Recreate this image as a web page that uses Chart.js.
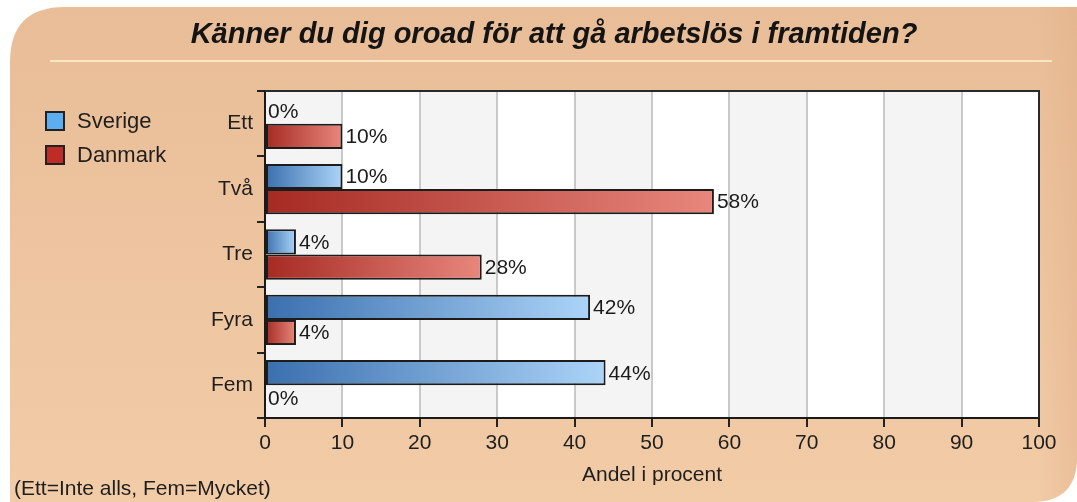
<!DOCTYPE html>
<html>
<head>
<meta charset="utf-8">
<script src="https://cdn.jsdelivr.net/npm/chart.js@4/dist/chart.umd.min.js"></script>
<style>
  html, body { margin: 0; padding: 0; background: #fff; }
  #wrap { width: 1077px; height: 502px; }
</style>
</head>
<body>
<div id="wrap"><canvas id="chart" width="1077" height="502"></canvas></div>
<script>
'use strict';

var categories = ['Ett', 'Två', 'Tre', 'Fyra', 'Fem'];
var sverige = [0, 10, 4, 42, 44];
var danmark = [10, 58, 28, 4, 0];
var xTicks = [0, 10, 20, 30, 40, 50, 60, 70, 80, 90, 100];
var chartTitle = 'Känner du dig oroad för att gå arbetslös i framtiden?';
var axisTitle = 'Andel i procent';
var footnote = '(Ett=Inte alls, Fem=Mycket)';

var FONT = "'Liberation Sans', Arial, sans-serif";

function barFill(dark, light) {
  return function(c) {
    var chart = c.chart;
    var x = chart.scales && chart.scales.x;
    if (c.type !== 'data' || !x || !chart.chartArea) return dark;
    var x0 = x.getPixelForValue(0);
    var x1 = x.getPixelForValue(c.raw);
    if (x1 - x0 < 1) return dark;
    var g = chart.ctx.createLinearGradient(x0, 0, x1, 0);
    g.addColorStop(0, dark);
    g.addColorStop(1, light);
    return g;
  };
}

function roundedPanel(ctx, l, t, r, b, rTL, rBR) {
  ctx.beginPath();
  ctx.moveTo(l + rTL, t);
  ctx.lineTo(r, t);
  ctx.lineTo(r, b - rBR);
  ctx.quadraticCurveTo(r, b, r - rBR, b);
  ctx.lineTo(l, b);
  ctx.lineTo(l, t + rTL);
  ctx.quadraticCurveTo(l, t, l + rTL, t);
  ctx.closePath();
}

var decor = {
  id: 'decor',
  beforeDraw: function(chart) {
    var ctx = chart.ctx;
    var a = chart.chartArea;
    var x = chart.scales.x;
    ctx.save();
    ctx.fillStyle = '#ffffff';
    ctx.fillRect(0, 0, chart.width, chart.height);

    // peach panel
    var g = ctx.createLinearGradient(0, 7, 0, chart.height);
    g.addColorStop(0, '#e8bd97');
    g.addColorStop(1, '#f2cca7');
    roundedPanel(ctx, 10, 7, chart.width, chart.height, 55, 45);
    ctx.fillStyle = g;
    ctx.fill();
    var g2 = ctx.createLinearGradient(chart.width - 40, 0, chart.width, 0);
    g2.addColorStop(0, 'rgba(225,175,135,0)');
    g2.addColorStop(1, 'rgba(225,175,135,0.45)');
    ctx.fillStyle = g2;
    ctx.fill();

    // title line
    ctx.strokeStyle = '#f8e6c6';
    ctx.lineWidth = 2;
    ctx.beginPath();
    ctx.moveTo(50, 61);
    ctx.lineTo(1052, 61);
    ctx.stroke();

    // title
    ctx.fillStyle = '#141414';
    ctx.font = 'italic bold 29px ' + FONT;
    ctx.textAlign = 'center';
    ctx.textBaseline = 'middle';
    ctx.fillText(chartTitle, 554, 35);

    // plot background stripes
    for (var i = 0; i < xTicks.length - 1; i++) {
      var p0 = x.getPixelForValue(xTicks[i]);
      var p1 = x.getPixelForValue(xTicks[i + 1]);
      ctx.fillStyle = i % 2 === 0 ? '#f4f4f5' : '#ffffff';
      ctx.fillRect(p0, a.top, p1 - p0, a.bottom - a.top);
    }

    // legend
    ctx.font = '22px ' + FONT;
    ctx.textAlign = 'left';
    ctx.textBaseline = 'middle';
    chart.data.datasets.forEach(function(ds, k) {
      var cy = 121 + k * 34;
      ctx.fillStyle = ds.legendColor;
      ctx.fillRect(46, cy - 9, 18, 18);
      ctx.strokeStyle = '#222';
      ctx.lineWidth = 2;
      ctx.strokeRect(46, cy - 9, 18, 18);
      ctx.fillStyle = '#1e1e1e';
      ctx.fillText(ds.label, 77, cy + 1);
    });

    // footnote
    ctx.font = '21px ' + FONT;
    ctx.fillStyle = '#1e1e1e';
    ctx.textBaseline = 'middle';
    ctx.fillText(footnote, 14, 489);
    ctx.restore();
  },
  afterDatasetsDraw: function(chart) {
    var ctx = chart.ctx;
    var a = chart.chartArea;
    ctx.save();
    // top and right frame
    ctx.strokeStyle = '#2a2a2a';
    ctx.lineWidth = 2;
    ctx.beginPath();
    ctx.moveTo(a.left, a.top);
    ctx.lineTo(a.right, a.top);
    ctx.lineTo(a.right, a.bottom);
    ctx.stroke();

    // value labels
    ctx.font = '21px ' + FONT;
    ctx.fillStyle = '#1a1a1a';
    ctx.textAlign = 'left';
    ctx.textBaseline = 'middle';
    chart.data.datasets.forEach(function(ds, k) {
      var meta = chart.getDatasetMeta(k);
      meta.data.forEach(function(bar, j) {
        ctx.fillText(ds.data[j] + '%', bar.x + 3, bar.y + 1);
      });
    });
    ctx.restore();
  }
};

var canvas = document.getElementById('chart');
var chart = new Chart(canvas.getContext('2d'), {
  type: 'bar',
  data: {
    labels: categories,
    datasets: [
      {
        label: 'Sverige',
        data: sverige,
        legendColor: '#5caef0',
        backgroundColor: barFill('#3a6fae', '#acd4f8'),
        borderColor: '#1c1c1c',
        borderWidth: 2,
        borderSkipped: false
      },
      {
        label: 'Danmark',
        data: danmark,
        legendColor: '#be2c28',
        backgroundColor: barFill('#a52a22', '#e8877d'),
        borderColor: '#1c1c1c',
        borderWidth: 2,
        borderSkipped: false
      }
    ]
  },
  options: {
    indexAxis: 'y',
    responsive: false,
    animation: false,
    categoryPercentage: 0.77,
    barPercentage: 1,
    layout: { padding: { left: 0, right: 38, top: 91, bottom: 0 } },
    plugins: {
      legend: { display: false },
      title: { display: false },
      tooltip: { enabled: false }
    },
    scales: {
      x: {
        min: 0,
        max: 100,
        afterBuildTicks: function(s) {
          s.ticks = xTicks.map(function(v) { return { value: v }; });
        },
        afterFit: function(s) { s.height = 84; },
        grid: {
          color: '#c9c9c9',
          lineWidth: 2,
          tickColor: '#222',
          tickLength: 9
        },
        border: { color: '#1a1a1a', width: 2 },
        ticks: {
          padding: 4,
          color: '#1e1e1e',
          font: { family: FONT, size: 21 }
        },
        title: {
          display: true,
          text: axisTitle,
          color: '#1e1e1e',
          font: { family: FONT, size: 21 },
          padding: { top: 0, bottom: 14 }
        }
      },
      y: {
        afterFit: function(s) { s.width = 265; },
        grid: {
          drawOnChartArea: false,
          tickColor: '#222',
          tickLength: 8,
          lineWidth: 2
        },
        border: { color: '#1a1a1a', width: 2 },
        ticks: {
          padding: 4,
          color: '#1e1e1e',
          font: { family: FONT, size: 21 }
        }
      }
    }
  },
  plugins: [decor]
});
</script>
</body>
</html>
